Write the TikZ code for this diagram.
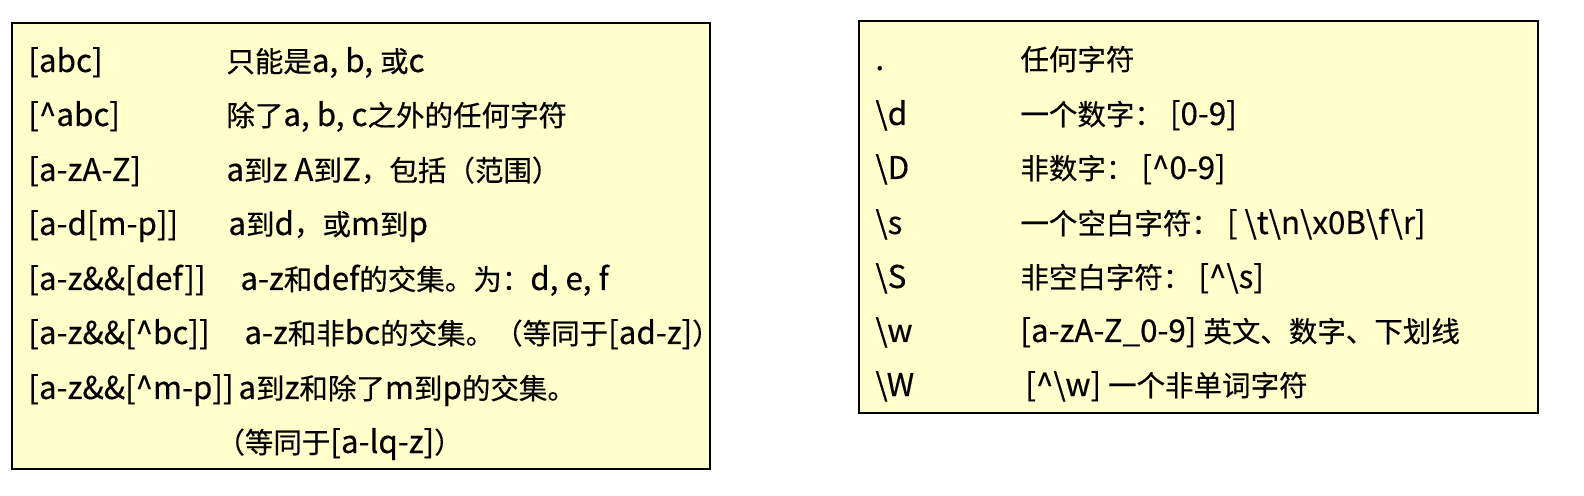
\documentclass[tikz,border=0pt]{standalone}
\usepackage{fontspec}
\setmainfont{Noto Sans CJK SC}[Scale=1.1,FakeBold=0.4]
\newfontfamily\zh{Noto Sans CJK SC}[FakeBold=0.4]
\definecolor{tipyellow}{RGB}{255,255,204}
\tikzset{
  panel/.style={draw=black,line width=1pt,fill=tipyellow},
  txt/.style={anchor=base west,inner sep=0pt,font=\fontsize{14.25}{17}\selectfont},
}
\begin{document}
\begin{tikzpicture}[x=0.5pt,y=-0.5pt]
\useasboundingbox (0,0) rectangle (1584,496);
\draw[panel] (12,23) rectangle (710,469);
\draw[panel] (859,21) rectangle (1538,413);
% left panel
\node[txt](k1) at (28,72) {[abc]}; \node[txt](v1) at (226,72) {{\zh 只能是}a, b, {\zh 或}c};
\node[txt](k2) at (28,126) {[\textasciicircum abc]}; \node[txt](v2) at (226,126) {{\zh 除了}a, b, c{\zh 之外的任何字符}};
\node[txt](k3) at (28,181) {[a-zA-Z]}; \node[txt](v3) at (226,181) {a{\zh 到}z A{\zh 到}Z{\zh ，包括（范围）}};
\node[txt](k4) at (28,235) {[a-d[m-p]]}; \node[txt](v4) at (228,235) {a{\zh 到}d{\zh ，或}m{\zh 到}p};
\node[txt](k5) at (28,290) {[a-z\&\&[def]]}; \node[txt](v5) at (240,290) {a-z{\zh 和}def{\zh 的交集。为：}d, e, f};
\node[txt](k6) at (28,344) {[a-z\&\&[\textasciicircum bc]]}; \node[txt](v6) at (244,344) {a-z{\zh 和非}bc{\zh 的交集。（等同于}[ad-z]{\zh ）}};
\node[txt](k7) at (28,399) {[a-z\&\&[\textasciicircum m-p]]}; \node[txt](v7) at (238,399) {a{\zh 到}z{\zh 和除了}m{\zh 到}p{\zh 的交集。}};
\node[txt](v8) at (216,453) {{\zh （等同于}[a-lq-z]{\zh ）}};
% right panel
\node[txt](k9) at (875,70) {.}; \node[txt](v9) at (1020,70) {{\zh 任何字符}};
\node[txt](k10) at (875,125) {\textbackslash d}; \node[txt](v10) at (1020,125) {{\zh 一个数字：} [0-9]};
\node[txt](k11) at (875,179) {\textbackslash D}; \node[txt](v11) at (1020,179) {{\zh 非数字：} [\textasciicircum 0-9]};
\node[txt](k12) at (875,234) {\textbackslash s}; \node[txt](v12) at (1020,234) {{\zh 一个空白字符：} [ \textbackslash t\textbackslash n\textbackslash x0B\textbackslash f\textbackslash r]};
\node[txt](k13) at (875,288) {\textbackslash S}; \node[txt](v13) at (1020,288) {{\zh 非空白字符：} [\textasciicircum\textbackslash s]};
\node[txt](k14) at (875,342) {\textbackslash w}; \node[txt](v14) at (1020,342) {[a-zA-Z\_0-9] {\zh 英文、数字、下划线}};
\node[txt](k15) at (875,396) {\textbackslash W}; \node[txt](v15) at (1025,396) {[\textasciicircum\textbackslash w] {\zh 一个非单词字符}};
\end{tikzpicture}
\end{document}
